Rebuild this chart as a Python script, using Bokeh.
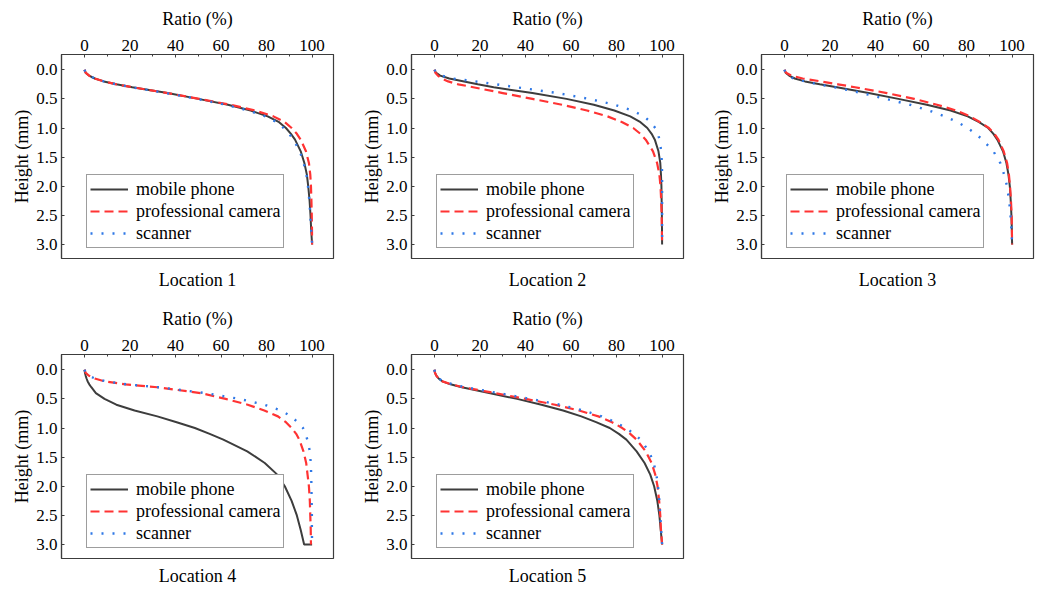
from bokeh.plotting import figure
from bokeh.models import (Range1d, FixedTicker, Legend, LegendItem, Title,
                          NumeralTickFormatter)
from bokeh.layouts import row, column
from bokeh.embed import file_html
from bokeh.resources import INLINE

# Height above the base (mm) at which each ratio was sampled
HEIGHTS = [0.0, 0.05, 0.1, 0.15, 0.2, 0.25, 0.3, 0.4, 0.5, 0.6, 0.7, 0.8,
           0.9, 1.0, 1.1, 1.2, 1.4, 1.6, 1.8, 2.0, 2.25, 2.5, 2.75, 3.0]

SERIES = ["mobile phone", "professional camera", "scanner"]
LOCATIONS = ["Location 1", "Location 2", "Location 3", "Location 4", "Location 5"]

X_TICKS = [0, 20, 40, 60, 80, 100]
X_MINOR = [10, 30, 50, 70, 90]
Y_TICKS = [0.0, 0.5, 1.0, 1.5, 2.0, 2.5, 3.0]

# Cumulative ratio (%) per device, one list per location
loc1_phone = [0, 0.5, 2, 4.5, 8.5, 14, 21, 36.5, 50, 63, 73, 80.5, 85.5, 88.5, 90.7, 92.5, 95, 96.6, 97.7, 98.3, 98.9, 99.3, 99.6, 100]
loc1_camera = [0, 0.5, 2, 4.5, 8.5, 14, 21, 36.5, 50.5, 64, 75, 83, 88, 91, 93.3, 95, 97.3, 98.6, 99.2, 99.5, 99.7, 99.85, 99.95, 100]
loc1_scanner = [0, 0.5, 2, 4.5, 8.5, 14, 20.5, 36, 49.5, 62, 72, 79.5, 84.5, 87.5, 89.9, 91.8, 94.6, 96.3, 97.5, 98.2, 98.8, 99.2, 99.6, 100]

loc2_phone = [0, 0.6, 2.5, 6.5, 13, 19, 26, 43, 58, 70, 79, 86, 90.5, 93.5, 95.4, 96.8, 98.4, 99.2, 99.5, 99.7, 99.8, 99.9, 99.95, 100]
loc2_camera = [0, 0.4, 1.5, 3.2, 6, 10.5, 17, 30, 43, 56, 67, 76, 82.5, 87.3, 90.5, 92.8, 96, 97.8, 98.8, 99.3, 99.6, 99.8, 99.9, 100]
loc2_scanner = [0, 0.7, 3, 8, 18, 27, 36, 54, 68, 79, 87, 92, 95, 97, 98.1, 98.9, 99.6, 99.9, 100, 100, 100, 100, 100, 100]

loc3_phone = [0, 0.5, 2, 4.5, 9, 15.5, 23, 37, 50, 62.5, 73, 80.5, 85.5, 89.5, 91.8, 93.5, 96, 97.5, 98.4, 99, 99.4, 99.7, 99.9, 100]
loc3_camera = [0, 0.7, 3, 8, 16, 23.5, 31, 45, 57, 67, 75.5, 81.5, 86, 89.8, 92.2, 94, 96.3, 97.8, 98.6, 99.1, 99.5, 99.8, 99.9, 100]
loc3_scanner = [0, 0.4, 1.5, 4, 9, 15, 22, 34, 44.5, 55, 63.5, 70.5, 76, 80.5, 84, 87, 91.8, 94.8, 96.5, 97.8, 98.7, 99.3, 99.7, 100]

# the phone profile at location 4 ends with a flat step along the 3 mm line
loc4_phone = [0, 0.2, 0.5, 0.9, 1.4, 2.1, 3, 5, 8.8, 14, 22, 32, 40.5, 48.5, 55, 61, 71.5, 79.2, 84.7, 88, 91, 93.3, 95, 96.5, 100]
loc4_phone_heights = HEIGHTS + [3.0]
loc4_camera = [0, 0.5, 1.8, 4.5, 9, 18, 32, 51, 62, 71.7, 79, 85, 88.5, 91, 93, 94.4, 96.2, 97.4, 98, 98.6, 99, 99.2, 99.4, 99.5]
loc4_scanner = [0, 0.5, 1.8, 4.5, 9.5, 18.5, 32.5, 53, 68, 79, 86.4, 90.8, 93.7, 96, 97.1, 97.9, 99, 99.4, 99.6, 99.7, 99.8, 99.9, 99.9, 100]

loc5_phone = [0, 0.2, 0.8, 1.8, 3.5, 7, 12, 24, 36.3, 47, 56.5, 64.5, 71, 77, 81, 84.3, 88.8, 92.3, 94.8, 96.5, 97.9, 98.8, 99.4, 100]
loc5_camera = [0, 0.2, 0.8, 1.8, 3.5, 7.5, 12.5, 26.5, 40, 53, 63.5, 72, 78, 82.5, 86, 88.8, 92.8, 95.4, 97, 98, 98.7, 99.2, 99.5, 100]
loc5_scanner = [0, 0.2, 0.8, 1.9, 3.8, 8, 13.5, 28, 42, 55, 65.5, 73.5, 79.5, 84, 87.8, 90.5, 94.2, 96.3, 97.5, 98.2, 98.8, 99.2, 99.6, 100]

FONT = "'Liberation Serif', 'DejaVu Serif', serif"
FRAME = "#3c3c3c"
STYLES = [
    dict(line_color="#3d3d3d", line_width=2.0),
    dict(line_color="#ff3333", line_width=2.2, line_dash="9 5"),
    dict(line_color="#2f78e6", line_width=2.4, line_dash="2 9"),
]


def make_panel(name, curves, width, height, border_right, border_bottom,
               caption_gap):
    p = figure(width=width, height=height,
               x_range=Range1d(-10.1, 109.4), y_range=Range1d(3.24, -0.262),
               x_axis_location="above", y_axis_location="left",
               output_backend="svg", toolbar_location=None,
               min_border_left=61, min_border_right=border_right,
               min_border_top=54, min_border_bottom=border_bottom)
    p.title = None
    p.grid.visible = False
    p.outline_line_color = FRAME
    p.outline_line_width = 1.2
    p.background_fill_color = "white"
    p.border_fill_color = "white"

    xa = p.xaxis[0]
    xa.ticker = FixedTicker(ticks=X_TICKS, minor_ticks=X_MINOR)
    xa.axis_label = "Ratio (%)"
    ya = p.yaxis[0]
    ya.ticker = FixedTicker(ticks=Y_TICKS)
    ya.formatter = NumeralTickFormatter(format="0.0")
    ya.axis_label = "Height (mm)"
    for ax in (xa, ya):
        ax.axis_line_color = FRAME
        ax.axis_line_width = 1.2
        ax.major_tick_line_color = FRAME
        ax.minor_tick_line_color = FRAME
        ax.major_tick_in = 3
        ax.major_tick_out = 0
        ax.minor_tick_in = 2
        ax.minor_tick_out = 0
        ax.major_label_text_font = FONT
        ax.major_label_text_font_size = "17px"
        ax.major_label_text_color = "black"
        ax.axis_label_text_font = FONT
        ax.axis_label_text_font_size = "18px"
        ax.axis_label_text_font_style = "normal"
        ax.axis_label_text_color = "black"
        ax.major_label_standoff = 4
    xa.axis_label_standoff = 8
    ya.axis_label_standoff = 1

    items = []
    for label, (xs, ys), style in zip(SERIES, curves, STYLES):
        r = p.line(xs, ys, **style)
        items.append(LegendItem(label=label, renderers=[r]))

    legend = Legend(items=items, location=(25, 10), margin=0, padding=3,
                    spacing=0, label_height=22, glyph_height=22,
                    glyph_width=38, label_standoff=8,
                    label_text_font=FONT, label_text_font_size="18px",
                    label_text_color="black",
                    border_line_color=FRAME, border_line_width=1.2,
                    background_fill_color="white", background_fill_alpha=1.0)
    p.add_layout(legend)

    caption = Title(text=name, align="center", text_font=FONT,
                    text_font_size="18px", text_font_style="normal",
                    text_color="black", standoff=caption_gap)
    p.add_layout(caption, "below")
    return p


H = HEIGHTS
panels_data = [
    [(loc1_phone, H), (loc1_camera, H), (loc1_scanner, H)],
    [(loc2_phone, H), (loc2_camera, H), (loc2_scanner, H)],
    [(loc3_phone, H), (loc3_camera, H), (loc3_scanner, H)],
    [(loc4_phone, loc4_phone_heights), (loc4_camera, H), (loc4_scanner, H)],
    [(loc5_phone, H), (loc5_camera, H), (loc5_scanner, H)],
]

p1 = make_panel(LOCATIONS[0], panels_data[0], 350, 300, 17, 42, 18)
p2 = make_panel(LOCATIONS[1], panels_data[1], 350, 300, 17, 42, 18)
p3 = make_panel(LOCATIONS[2], panels_data[2], 341, 300, 8, 42, 18)
p4 = make_panel(LOCATIONS[3], panels_data[3], 350, 291, 17, 33, 11)
p5 = make_panel(LOCATIONS[4], panels_data[4], 350, 291, 17, 33, 11)

layout = column(row(p1, p2, p3, spacing=0), row(p4, p5, spacing=0), spacing=0)

with open("out.html", "w") as f:
    f.write(file_html(layout, INLINE))
